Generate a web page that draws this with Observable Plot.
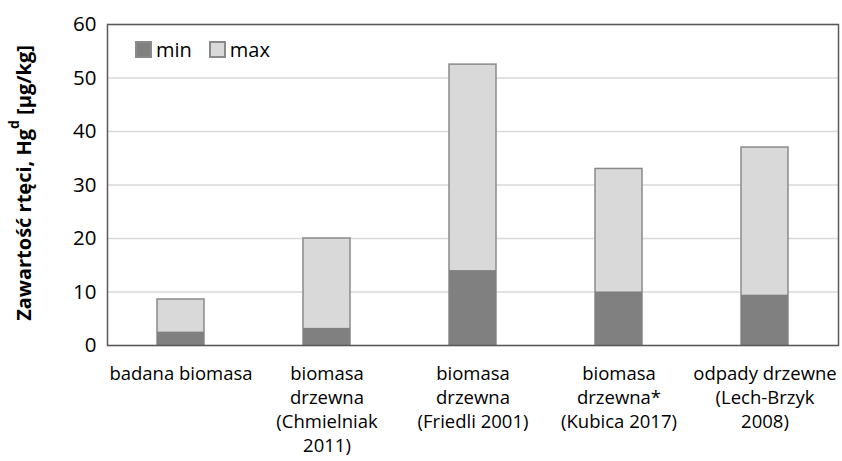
<!DOCTYPE html>
<html>
<head>
<meta charset="utf-8">
<script src="https://cdn.jsdelivr.net/npm/d3@7"></script>
<script src="https://cdn.jsdelivr.net/npm/@observablehq/plot@0.6"></script>
<style>
  html, body { margin: 0; padding: 0; background: #fff; }
  #wrap { position: relative; width: 842px; height: 461px; font-family: "Open Sans", sans-serif; }
  #legend { position: absolute; left: 136px; top: 36px; }
  .lg-swatches { font-family: "Open Sans", sans-serif; font-size: 20px; color: #000; min-height: 0 !important; margin: 0 !important; }
  .lg-swatch { margin-right: 18px !important; }
  .lg-swatch svg { margin-right: 5px !important; }
  .lg-swatch svg rect { stroke: #8a8a8a; stroke-width: 2px; }
</style>
</head>
<body>
<div id="wrap"><div id="legend"></div></div>
<script>
const categories = [
  "badana biomasa",
  "biomasa\ndrzewna\n(Chmielniak\n2011)",
  "biomasa\ndrzewna\n(Friedli 2001)",
  "biomasa\ndrzewna*\n(Kubica 2017)",
  "odpady drzewne\n(Lech-Brzyk\n2008)"
];
const minValues = [2.5, 3.2, 14, 10, 9.4];
const maxValues = [8.6, 20, 52.5, 33, 37];
const yTicks = [0, 10, 20, 30, 40, 50, 60];
const seriesNames = ["min", "max"];
const seriesColors = ["#808080", "#d9d9d9"];

const data = categories.map((c, i) => ({cat: c, min: minValues[i], max: maxValues[i]}));

const chart = Plot.plot({
  width: 842,
  height: 461,
  marginLeft: 107,
  marginRight: 4,
  marginTop: 24,
  marginBottom: 116,
  style: {fontFamily: "Open Sans, sans-serif", background: "#fff", color: "#000"},
  x: {domain: categories, paddingInner: 0.68, paddingOuter: 0.34, label: null},
  y: {domain: [0, 60], ticks: yTicks, label: null},
  marks: [
    Plot.gridY(yTicks, {stroke: "#d9d9d9", strokeOpacity: 1, strokeWidth: 1.5}),
    Plot.barY(data, {x: "cat", y: "max", fill: seriesColors[1], stroke: "#8a8a8a", strokeWidth: 1.5}),
    Plot.barY(data, {x: "cat", y: "min", fill: seriesColors[0]}),
    Plot.frame({stroke: "#595959", strokeWidth: 1.5}),
    Plot.axisY(yTicks, {tickSize: 0, tickPadding: 11, fontSize: 20.5, label: null}),
    Plot.axisX({tickSize: 0, tickPadding: 17, fontSize: 18.5, lineHeight: 1.3, label: null})
  ]
});

// y-axis title with superscript
const svg = d3.select(chart);
const t = svg.append("text")
  .attr("transform", "translate(23,183) rotate(-90)")
  .attr("text-anchor", "middle")
  .attr("dominant-baseline", "central")
  .attr("font-family", "Open Sans, sans-serif")
  .attr("font-weight", "bold")
  .attr("font-size", 20)
  .attr("fill", "#000");
t.append("tspan").text("Zawartość rtęci, Hg");
t.append("tspan").attr("baseline-shift", "super").attr("font-size", 14).text("d");
t.append("tspan").text(" [µg/kg]");

document.getElementById("wrap").prepend(chart);
chart.style.position = "absolute";
chart.style.left = "0";
chart.style.top = "0";

const legend = Plot.legend({
  color: {domain: seriesNames, range: seriesColors},
  swatchSize: 15,
  className: "lg"
});
document.getElementById("legend").appendChild(legend);
</script>
</body>
</html>
